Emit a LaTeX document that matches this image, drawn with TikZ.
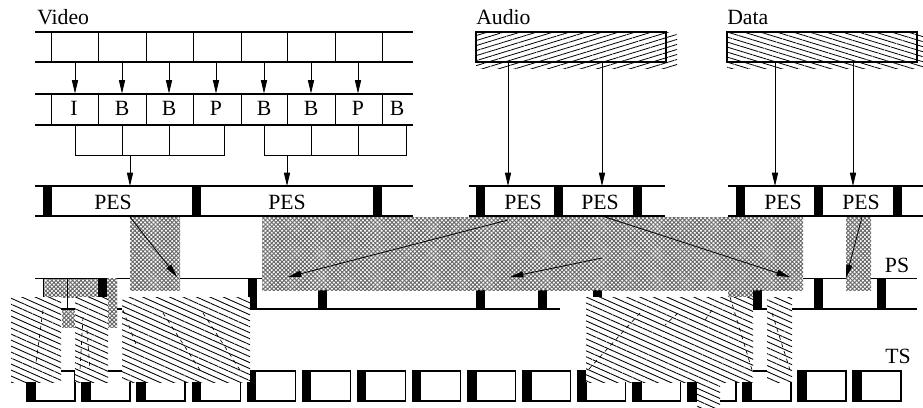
\documentclass[tikz,border=0pt]{standalone}
\usepackage{fontspec}
\setmainfont{Liberation Serif}
\usetikzlibrary{patterns.meta,arrows.meta}
\begin{document}
\begin{tikzpicture}[x=0.75pt,y=-0.75pt,
 lbl/.style={font=\fontsize{16.3}{19}\selectfont, inner sep=0pt},
 rowln/.style={line width=1pt},
 divln/.style={line width=0.75pt},
 thinln/.style={line width=0.6pt},
 arr/.style={-{Triangle[length=10pt,width=4.6pt]}, line width=0.6pt},
 xhatch/.style={preaction={fill=white}, pattern={Hatch[angle=45,distance=2.2pt,line width=0.7pt]}, pattern color=black!60},
 tshatch/.style={preaction={fill=white}, pattern={Lines[angle=-24,distance=4.1pt,line width=0.65pt]}, pattern color=black},
 audhatch/.style={pattern={Lines[angle=17,distance=3.6pt,line width=0.6pt]}, pattern color=black},
 dathatch/.style={pattern={Lines[angle=-17,distance=3.6pt,line width=0.6pt]}, pattern color=black},
 dsh/.style={line width=0.5pt, dash pattern=on 3pt off 3pt},
]
\useasboundingbox (0,0) rectangle (923,407);

% ---------- titles
\node[lbl, anchor=base west] (vid) at (37,24) {Video};
\node[lbl, anchor=base west] (aud) at (476,24) {Audio};
\node[lbl, anchor=base west] (dat) at (727,24) {Data};

% ---------- video rows
\foreach \y in {32,62,94,125} \draw[rowln] (35,\y) -- (413,\y);
\foreach \x in {51,98,146,193,241,287,335,382} {
  \draw[divln] (\x,32) -- (\x,62);
  \draw[divln] (\x,94) -- (\x,125);
}
\foreach \t/\x [count=\k] in {I/74,B/122,B/169,P/216,B/264,B/311,P/358,B/397}
  \node[lbl,anchor=base] (f\k) at (\x,115) {\t};
\foreach \x in {75,122,169,216,264,311,358} \draw[arr] (\x,62) -- (\x,93.5);

% brackets
\draw[thinln] (75,125) -- (75,155) -- (224,155) -- (224,125);
\draw[thinln] (122,125) -- (122,155) (169,125) -- (169,155);
\draw[thinln] (264,125) -- (264,155) -- (406,155) -- (406,125);
\draw[thinln] (311,125) -- (311,155) (358,125) -- (358,155);
\coordinate (b1) at (130,155);
\coordinate (b2) at (287,155);

% ---------- audio and data
\path[audhatch] (476,32) rectangle (677,68);
\draw[line width=1.1pt] (476,32) rectangle (666,62);
\path[dathatch] (727,32) rectangle (923,68);
\draw[line width=1.1pt] (727,32) rectangle (917,62);

% ---------- PES row
\draw[rowln] (35,186) -- (413,186) (35,216) -- (413,216)
             (469,186) -- (665,186) (469,216) -- (665,216)
             (728,186) -- (923,186) (728,216) -- (923,216);
\foreach \x in {43,192,373,476,554,633,736,814,893} \fill (\x,186) rectangle +(9,30);
\foreach \x [count=\k] in {113,287,523,600,783,861}
  \node[lbl,anchor=base] (pes\k) at (\x,209) {PES};

\draw[arr] (b1) -- (130,186);
\draw[arr] (b2) -- (287,186);
\draw[arr] (508,62) -- (508,186);
\draw[arr] (602,62) -- (602,186);
\draw[arr] (775,62) -- (775,186);
\draw[arr] (853,62) -- (853,186);

% ---------- PS row
\draw[thinln] (35,278) -- (917,278);
\draw[rowln] (35,309) -- (560,309) (753,309) -- (917,309);
\foreach \x in {98,248,318,476,538,593,753,814,877} \fill (\x,278) rectangle +(9,31);
\node[lbl,anchor=base] (ps) at (897,272) {PS};

% ---------- TS row
\foreach \i in {0,...,15} {
  \pgfmathsetmacro\xa{27+55.07*\i}
  \draw[line width=1pt] (\xa,371) rectangle +(48,30);
  \fill (\xa,371) rectangle +(9,30);
}
\node[lbl,anchor=base] (ts) at (898,363) {TS};

% ---------- cross-hatched regions (PES -> PS)
\path[xhatch] (130,217) rectangle (180,290);
\path[xhatch] (262,217) rectangle (803,290);
\path[xhatch] (728,289) rectangle (753,297);
\path[xhatch] (846,217) rectangle (871,290);
\path[xhatch] (43,278) rectangle (98,297);
\draw[thinln] (43,297) -- (43,278) -- (98,278);
\path[xhatch] (107,278) rectangle (117,327);
\path[xhatch] (62,309) rectangle (75,327);
\draw[thinln] (67,278) -- (67,309);
\draw[line width=1pt] (62,309) -- (75,309);

% ---------- hatched regions (PS -> TS)
\path[tshatch] (11,297) rectangle (61,382);
\path[tshatch] (75,297) rectangle (108,382);
\path[tshatch] (122,297) rectangle (250,382);
\path[tshatch] (586,297) rectangle (753,382);
\path[tshatch] (697,382) rectangle (720,407);
\path[tshatch] (767,297) rectangle (792,382);

% dashed connectors under the hatching
\draw[dsh] (43,310) -- (36,363);
\draw[dsh] (83,317) -- (80,370);
\draw[dsh] (87,330) -- (90,370);
\draw[dsh] (123,310) -- (137,347);
\draw[dsh] (163,313) -- (200,370);
\draw[dsh] (203,313) -- (240,370);
\draw[dsh] (640,313) -- (588,370);
\draw[dsh] (678,313) -- (665,325);
\draw[dsh] (712,310) -- (703,323);
\draw[dsh] (730,297) -- (752,370);
\draw[dsh] (772,313) -- (790,370);

% ---------- arrows PES -> PS
\coordinate (s1) at (130,217); \coordinate (e1) at (177,277);
\coordinate (s2) at (508,220); \coordinate (e2) at (288,277);
\coordinate (s3) at (602,258); \coordinate (e3) at (510,277);
\coordinate (s4) at (605,217); \coordinate (e4) at (790,277);
\coordinate (s5) at (862,217); \coordinate (e5) at (846,278);
\foreach \k in {1,...,5} \draw[arr] (s\k) -- (e\k);
\end{tikzpicture}
\end{document}
